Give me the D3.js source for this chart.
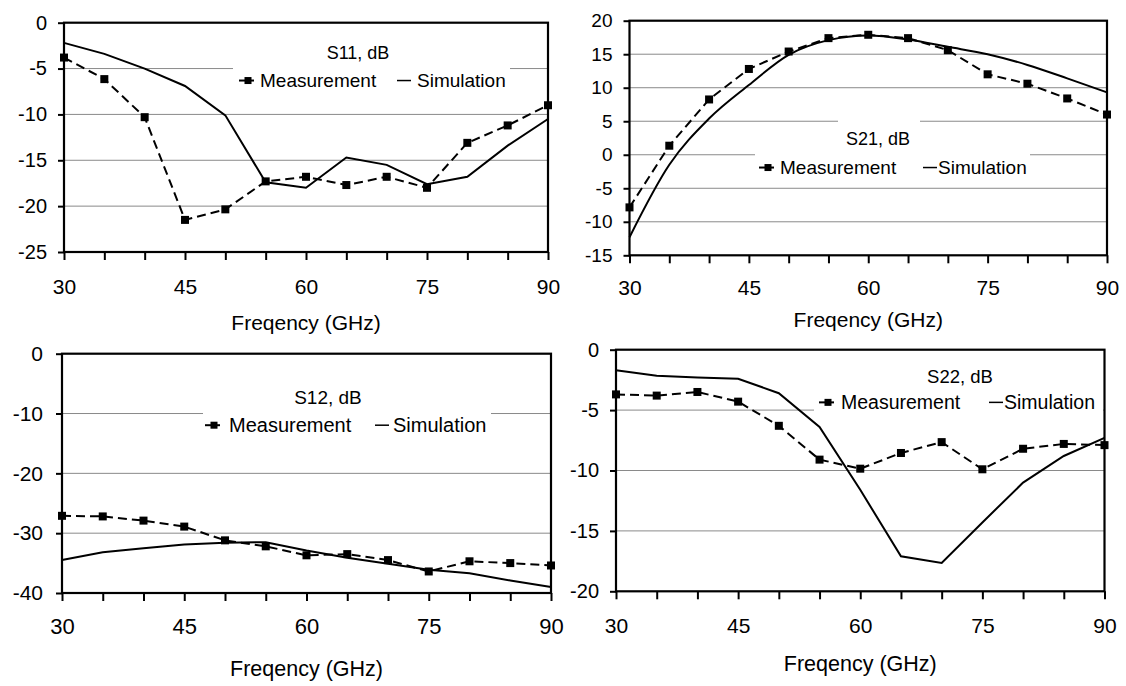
<!DOCTYPE html>
<html>
<head>
<meta charset="utf-8">
<script src="https://cdn.jsdelivr.net/npm/d3@7/dist/d3.min.js"></script>
<style>
  body { margin: 0; background: #fff; }
  svg { display: block; font-family: "Liberation Sans", Arial, sans-serif; }
</style>
</head>
<body>
<svg id="chart" width="1126" height="686"></svg>
<script>
// frequency points (GHz) and the labelled ones
const freq = [30, 35, 40, 45, 50, 55, 60, 65, 70, 75, 80, 85, 90];
const freqLabels = [30, 45, 60, 75, 90];

// S11
const s11Meas = [-3.8, -6.15, -10.3, -21.5, -20.35, -17.3, -16.8, -17.7, -16.8, -18.0, -13.1, -11.2, -9.0];
const s11Sim = [-2.2, -3.4, -5.0, -6.9, -10.1, -17.4, -18.0, -14.7, -15.5, -17.6, -16.8, -13.4, -10.5];
const s11Ticks = [0, -5, -10, -15, -20, -25];

// S21
const s21Meas = [-7.85, 1.35, 8.25, 12.8, 15.4, 17.4, 17.9, 17.4, 15.6, 12.0, 10.6, 8.4, 6.0];
const s21Sim = [-12.3, -1.5, 5.4, 10.4, 14.9, 17.1, 17.8, 17.2, 16.1, 15.0, 13.4, 11.4, 9.3];
const s21Ticks = [20, 15, 10, 5, 0, -5, -10, -15];

// S12
const s12Meas = [-27.1, -27.2, -27.9, -28.9, -31.2, -32.2, -33.7, -33.5, -34.5, -36.4, -34.7, -35.0, -35.4];
const s12Sim = [-34.5, -33.2, -32.5, -31.9, -31.6, -31.5, -32.9, -34.1, -35.1, -36.1, -36.7, -37.9, -39.0];
const s12Ticks = [0, -10, -20, -30, -40];

// S22
const s22Meas = [-3.7, -3.8, -3.5, -4.3, -6.3, -9.1, -9.85, -8.55, -7.65, -9.9, -8.2, -7.8, -7.9];
const s22Sim = [-1.7, -2.15, -2.3, -2.4, -3.6, -6.4, -11.6, -17.1, -17.65, -14.3, -11.0, -8.8, -7.3];
const s22Ticks = [0, -5, -10, -15, -20];

const xTitle = "Freqency (GHz)";
const legendNames = ["Measurement", "Simulation"];

// layout of each panel (pixels)
const panels = [
    { name: "S11, dB", meas: s11Meas, sim: s11Sim, ticks: s11Ticks, smooth: false,
      box: { l: 64, r: 548, t: 22.7, b: 252 }, yPad: 11, xPad: 19, yFont: 20, xFont: 21,
      titleY: 330, titleFont: 21,
      leg: { cx: 358, ty: 59, ly: 87, mx: 248, tx: 260, sx: 397, stx: 417, font: 19, tfont: 18,
             boxes: [[233, 510, 62, 96]] } },
    { name: "S21, dB", meas: s21Meas, sim: s21Sim, ticks: s21Ticks, smooth: true,
      box: { l: 629.5, r: 1107, t: 20.7, b: 255.3 }, yPad: 11, xPad: 17, yFont: 19, xFont: 21,
      titleY: 327, titleFont: 21,
      leg: { cx: 878, ty: 145, ly: 174, mx: 768, tx: 780, sx: 923, stx: 938, font: 19, tfont: 18,
             boxes: [[838, 920, 118, 150], [755, 1030, 150, 182]] } },
    { name: "S12, dB", meas: s12Meas, sim: s12Sim, ticks: s12Ticks, smooth: false,
      box: { l: 62, r: 551, t: 353.7, b: 593 }, yPad: 13, xPad: 17, yFont: 21, xFont: 22,
      titleY: 676, titleFont: 21.5,
      leg: { cx: 328, ty: 404, ly: 432, mx: 214, tx: 229, sx: 375, stx: 393, font: 20, tfont: 19,
             boxes: [[203, 491, 406, 440]] } },
    { name: "S22, dB", meas: s22Meas, sim: s22Sim, ticks: s22Ticks, smooth: false,
      box: { l: 616, r: 1104.5, t: 349.7, b: 591.3 }, yPad: 11, xPad: 19, yFont: 20, xFont: 21,
      titleY: 671, titleFont: 21.5,
      leg: { cx: 960, ty: 383, ly: 409, mx: 828, tx: 841, sx: 989, stx: 1004, font: 19.5, tfont: 18.5,
             boxes: [[814, 1103, 394, 416]] } }
];

const svg = d3.select("#chart");
svg.append("rect").attr("width", 1126).attr("height", 686).attr("fill", "#fff");

panels.forEach(p => {
    const g = svg.append("g");
    const x = d3.scaleLinear().domain([30, 90]).range([p.box.l, p.box.r]);
    const y = d3.scaleLinear().domain(d3.extent(p.ticks)).range([p.box.b, p.box.t]);

    // gridlines
    g.selectAll(".grid")
        .data(p.ticks.filter(t => t !== y.domain()[0] && t !== y.domain()[1]))
        .enter().append("line")
        .attr("x1", p.box.l).attr("x2", p.box.r)
        .attr("y1", d => y(d)).attr("y2", d => y(d))
        .attr("stroke", "#8a8a8a").attr("stroke-width", 1);

    // legend backgrounds
    p.leg.boxes.forEach(b => {
        g.append("rect").attr("x", b[0]).attr("y", b[2])
            .attr("width", b[1] - b[0]).attr("height", b[3] - b[2]).attr("fill", "#fff");
    });

    const line = d3.line().x((d, i) => x(freq[i])).y(d => y(d));
    const simLine = d3.line().x((d, i) => x(freq[i])).y(d => y(d))
        .curve(p.smooth ? d3.curveMonotoneX : d3.curveLinear);

    // simulation
    g.append("path").datum(p.sim)
        .attr("d", simLine).attr("fill", "none")
        .attr("stroke", "#000").attr("stroke-width", 2);

    // measurement
    g.append("path").datum(p.meas)
        .attr("d", line).attr("fill", "none")
        .attr("stroke", "#000").attr("stroke-width", 2)
        .attr("stroke-dasharray", "9,5");

    g.selectAll(".mk").data(p.meas).enter().append("rect")
        .attr("x", (d, i) => x(freq[i]) - 4).attr("y", d => y(d) - 4)
        .attr("width", 8).attr("height", 8).attr("fill", "#000");

    // axes (plain hyphen for negatives, like the original)
    const yAxis = d3.axisLeft(y).tickValues(p.ticks).tickSize(6).tickPadding(p.yPad)
        .tickFormat(d => String(d));
    const ya = g.append("g").attr("transform", `translate(${p.box.l},0)`).call(yAxis);
    ya.select(".domain").remove();
    ya.selectAll("line").attr("stroke-width", 2);
    ya.selectAll("text").attr("font-size", p.yFont).attr("fill", "#000")
        .attr("font-family", "Liberation Sans, Arial, sans-serif");

    const xAxis = d3.axisBottom(x).tickValues(freq).tickSize(8).tickPadding(p.xPad)
        .tickFormat(d => freqLabels.includes(d) ? String(d) : "");
    const xa = g.append("g").attr("transform", `translate(0,${p.box.b})`).call(xAxis);
    xa.select(".domain").remove();
    xa.selectAll("line").attr("stroke-width", 2);
    xa.selectAll("text").attr("font-size", p.xFont).attr("fill", "#000")
        .attr("font-family", "Liberation Sans, Arial, sans-serif");

    // plot frame
    g.append("rect")
        .attr("x", p.box.l).attr("y", p.box.t)
        .attr("width", p.box.r - p.box.l).attr("height", p.box.b - p.box.t)
        .attr("fill", "none").attr("stroke", "#000").attr("stroke-width", 2.2);

    // axis title
    g.append("text")
        .attr("x", (p.box.l + p.box.r) / 2).attr("y", p.titleY)
        .attr("text-anchor", "middle").attr("font-size", p.titleFont)
        .text(xTitle);

    // chart title + legend
    const L = p.leg;
    g.append("text").attr("x", L.cx).attr("y", L.ty)
        .attr("text-anchor", "middle").attr("font-size", L.tfont).text(p.name);

    const my = L.ly - L.font * 0.34;
    g.append("line").attr("x1", L.mx - 9).attr("x2", L.mx + 6)
        .attr("y1", my).attr("y2", my).attr("stroke", "#000").attr("stroke-width", 2);
    g.append("rect").attr("x", L.mx - 3.5).attr("y", my - 3.5)
        .attr("width", 7).attr("height", 7).attr("fill", "#000");
    g.append("text").attr("x", L.tx).attr("y", L.ly)
        .attr("font-size", L.font).text(legendNames[0]);

    g.append("line").attr("x1", L.sx).attr("x2", L.sx + 14)
        .attr("y1", my).attr("y2", my).attr("stroke", "#000").attr("stroke-width", 1.5);
    g.append("text").attr("x", L.stx).attr("y", L.ly)
        .attr("font-size", L.font).text(legendNames[1]);
});
</script>
</body>
</html>
